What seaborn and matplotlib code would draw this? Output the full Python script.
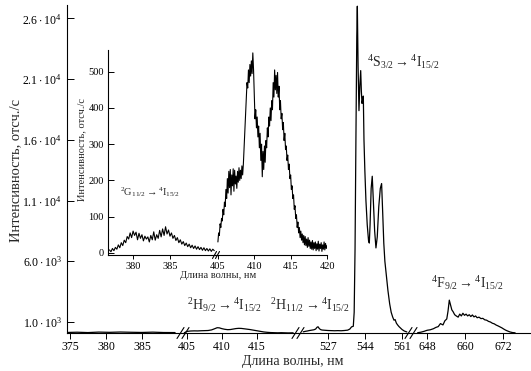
import numpy as np
import pandas as pd
import matplotlib
matplotlib.use("Agg")
import matplotlib.pyplot as plt
from matplotlib.lines import Line2D
import seaborn as sns

# main spectrum, four windows of the broken wavelength axis
main_wl_1 = [374.7, 376.0, 377.5, 379.0, 380.5, 382.0, 383.5, 385.0, 386.5, 388.0, 389.6]
main_int_1 = [140, 160, 130, 170, 150, 175, 155, 140, 165, 135, 130]

main_wl_2 = [404.6, 405.0, 405.5, 406.0, 406.5, 407.0, 407.5, 408.0, 408.5, 409.0,
             409.3, 409.6, 410.0, 410.4, 410.8, 411.2, 411.6, 412.0, 412.4, 412.8,
             413.2, 413.6, 414.0, 414.5, 415.0, 415.5, 416.0, 416.5, 417.0, 417.5,
             418.0, 418.5, 419.0, 419.5, 420.2]
main_int_2 = [120, 230, 260, 270, 265, 280, 290, 300, 350, 460,
              530, 520, 450, 400, 370, 380, 420, 460, 480, 470,
              440, 410, 380, 330, 280, 230, 180, 150, 130, 120,
              110, 120, 110, 100, 110]

main_wl_3 = [515.6, 516.5, 517.5, 518.5, 519.5, 520.5, 521.3, 521.9, 522.4, 522.9,
             523.5, 524.2, 525.5, 527.0, 528.5, 530.0, 531.5, 533.0, 534.5, 536.0,
             537.0, 537.8, 538.6, 539.0, 539.4, 539.8, 540.2, 540.45, 540.8, 541.2,
             541.6, 542.0, 542.3, 542.6, 542.9, 543.2, 543.5, 543.9, 544.4, 545.0,
             545.6, 545.95, 546.3, 546.8, 547.3, 547.8, 548.4, 549.0, 549.6, 550.3,
             551.0, 551.6, 552.1, 552.6, 553.1, 553.8, 554.5, 555.3, 556.0, 556.7,
             557.3, 557.8, 558.4, 559.0, 559.6, 560.3, 561.0, 562.0, 563.2]
main_int_3 = [190, 230, 260, 300, 330, 360, 420, 560, 610, 480,
              380, 340, 320, 300, 290, 280, 290, 280, 300, 330,
              420, 600, 650, 1800, 7000, 16000, 24500, 27000, 22000, 18400,
              20500, 21700, 20000, 19000, 19300, 19600, 16000, 13500, 11000, 9000,
              7700, 7500, 9000, 12000, 13000, 11000, 8500, 7100, 8000, 10500,
              12000, 12400, 10000, 7500, 6000, 4800, 3600, 2500, 1800, 1400,
              1150, 1200, 900, 750, 620, 500, 380, 260, 180]

main_wl_4 = [645.0, 646.0, 647.0, 648.0, 649.0, 650.0, 650.8, 651.5, 652.2, 653.0,
             653.6, 654.2, 654.6, 655.0, 655.4, 655.8, 656.2, 656.7, 657.2, 657.8,
             658.3, 658.8, 659.3, 659.8, 660.3, 660.8, 661.3, 661.8, 662.3, 662.8,
             663.3, 663.8, 664.4, 665.0, 665.6, 666.2, 666.8, 667.4, 668.0, 668.6,
             669.2, 669.8, 670.4, 671.0, 671.6, 672.2, 672.8, 673.5, 674.2, 675.0,
             675.8]
main_int_4 = [120, 160, 230, 320, 360, 450, 560, 620, 870, 760,
              1100, 1250, 1900, 2800, 2400, 2000, 1850, 1600, 1500, 1400,
              1650, 1500, 1720, 1550, 1650, 1500, 1600, 1450, 1580, 1420,
              1500, 1350, 1400, 1280, 1300, 1180, 1150, 1050, 1000, 900,
              850, 750, 680, 600, 520, 420, 330, 250, 180, 130,
              110]

main_xlims = [(374.6, 390.7), (404.4, 420.9), (513.2, 565.1), (642.9, 680.5)]
main_xticks = [[375, 380, 385], [405, 410, 415], [527, 544, 561], [648, 660, 672]]
main_yticks = [1000, 6000, 11000, 16000, 21000, 26000]
main_ylabels = [r'$1.0\cdot10^3$', r'$6.0\cdot10^3$', r'$1.1\cdot10^4$',
                r'$1.6\cdot10^4$', r'$2.1\cdot10^4$', r'$2.6\cdot10^4$']

# inset: 2G11/2 and 2H9/2 bands, step 0.2 nm and 0.1 nm
inset_int_1 = [8, 3, 12, 6, 15, 10, 22, 14, 28, 20,
               35, 28, 45, 38, 55, 42, 60, 48, 57, 36,
               54, 40, 50, 33, 46, 38, 44, 30, 48, 36,
               58, 35, 50, 40, 62, 44, 66, 48, 72, 52,
               63, 46, 55, 40, 48, 34, 42, 28, 36, 24,
               31, 20, 27, 17, 24, 14, 21, 12, 19, 10,
               17, 9, 15, 7, 14, 6, 12, 5, 11, 4,
               10, 6]
inset_wl_1 = np.round(np.linspace(376.8, 391.0, len(inset_int_1)), 2)

inset_int_2 = [30, 55, 48, 80, 70, 95, 88, 120, 105, 140,
               128, 175, 150, 205, 165, 225, 180, 230, 160, 215,
               185, 232, 170, 228, 190, 212, 178, 225, 195, 235,
               200, 228, 205, 240, 215, 245, 290, 330, 385, 420,
               470, 455, 505, 470, 520, 488, 530, 495, 552, 505,
               440, 370, 395, 345, 375, 320, 350, 290, 330, 255,
               300, 210, 280, 230, 295, 250, 310, 290, 345, 320,
               375, 350, 400, 365, 420, 395, 470, 430, 505, 450,
               490, 440, 498, 430, 460, 395, 420, 370, 385, 340,
               360, 310, 330, 285, 295, 255, 270, 230, 245, 205,
               215, 175, 185, 150, 160, 120, 130, 95, 105, 70,
               85, 55, 70, 42, 60, 35, 52, 28, 48, 22,
               45, 20, 38, 15, 42, 18, 35, 12, 30, 10,
               34, 8, 28, 12, 30, 6, 25, 10, 32, 5,
               24, 12, 28, 4, 22, 10, 30, 8, 26, 12,
               20]
inset_wl_2 = np.round(np.linspace(405.0, 420.0, len(inset_int_2)), 2)

inset_xlims = [(376.6, 391.1), (404.6, 420.0)]
inset_xticks = [[380, 385], [405, 410, 415, 420]]
inset_yticks = [0, 100, 200, 300, 400, 500]

sns.set_theme(style="ticks")
plt.rcParams['font.family'] = ['Liberation Serif', 'DejaVu Serif']
plt.rcParams['mathtext.fontset'] = 'custom'
plt.rcParams['mathtext.rm'] = 'Liberation Serif'
plt.rcParams['mathtext.it'] = 'Liberation Serif:italic'
plt.rcParams['mathtext.bf'] = 'Liberation Serif:bold'
plt.rcParams['axes.linewidth'] = 0.8
plt.rcParams['axes.edgecolor'] = 'black'

W, H = 531, 371
fig = plt.figure(figsize=(W / 100, H / 100), dpi=100)


def broken_row(box, widths, xlims, xticks, fs, tlen):
    x0, y0, x1, y1 = box
    axes = []
    left = x0
    for i, (w, lim, tk) in enumerate(zip(widths, xlims, xticks)):
        ax = fig.add_axes([left / W, 1 - y1 / H, w / W, (y1 - y0) / H])
        ax.set_facecolor('none')
        ax.set_xlim(*lim)
        ax.set_xticks(tk)
        ax.tick_params(axis='x', direction='out', length=tlen, width=0.7,
                       labelsize=fs, pad=2, colors='black')
        ax.tick_params(axis='y', direction='in', length=tlen + 1, width=0.7,
                       labelsize=fs, colors='black')
        for s in ['top', 'right']:
            ax.spines[s].set_visible(False)
        if i > 0:
            ax.spines['left'].set_visible(False)
            ax.tick_params(axis='y', left=False, labelleft=False)
        axes.append(ax)
        left += w
    return axes


def break_mark(xp, yp, w, h, gap):
    for dx in (-gap / 2, gap / 2):
        fig.add_artist(Line2D([(xp + dx - w / 2) / W, (xp + dx + w / 2) / W],
                              [1 - (yp + h / 2) / H, 1 - (yp - h / 2) / H],
                              color='black', lw=0.8))


# main plot
main_axes = broken_row((67, 5, 530, 333), [116, 115, 113, 119], main_xlims,
                       main_xticks, 8.5, 4)
main_data = [(main_wl_1, main_int_1), (main_wl_2, main_int_2),
             (main_wl_3, main_int_3), (main_wl_4, main_int_4)]
for ax, (wl, val) in zip(main_axes, main_data):
    sns.lineplot(x=wl, y=val, ax=ax, color='black', lw=0.9,
                 estimator=None, sort=False)
    ax.set_ylim(95, 27100)
    ax.set_xlabel('')
    ax.set_ylabel('')
main_axes[0].set_yticks(main_yticks)
main_axes[0].set_yticklabels(main_ylabels)
main_axes[0].tick_params(axis='y', pad=4, labelsize=8.5)
for xb in (183, 298, 411):
    break_mark(xb, 333, 7, 11, 5)

fig.text(293 / W, 1 - 362 / H, 'Длина волны, нм', fontsize=10,
         ha='center', va='center')
fig.text(16 / W, 1 - 170 / H, 'Интенсивность, отсч./с', fontsize=10.5,
         rotation=90, ha='center', va='center')

# inset
inset_axes = broken_row((108, 50, 327, 255), [107, 112], inset_xlims,
                        inset_xticks, 7.5, 3)
inset_data = [(inset_wl_1, inset_int_1), (inset_wl_2, inset_int_2)]
for ax, (wl, val) in zip(inset_axes, inset_data):
    sns.lineplot(x=wl, y=val, ax=ax, color='black', lw=0.8,
                 estimator=None, sort=False)
    ax.set_ylim(-6, 560)
    ax.set_xlabel('')
    ax.set_ylabel('')
inset_axes[0].set_yticks(inset_yticks)
inset_axes[0].tick_params(axis='y', pad=3)
break_mark(216, 255, 4, 7, 3)

fig.text(218 / W, 1 - 276 / H, 'Длина волны, нм', fontsize=7.5,
         ha='center', va='center')
fig.text(82 / W, 1 - 150 / H, 'Интенсивность, отсч./с', fontsize=7.5,
         rotation=90, ha='center', va='center')

# band assignments
labels = [
    (367, 62, r'$^{4}\mathrm{S}_{3/2}\rightarrow{}^{4}\mathrm{I}_{15/2}$', 10),
    (431, 283, r'$^{4}\mathrm{F}_{9/2}\rightarrow{}^{4}\mathrm{I}_{15/2}$', 10),
    (187, 305, r'$^{2}\mathrm{H}_{9/2}\rightarrow{}^{4}\mathrm{I}_{15/2}$', 10),
    (270, 305, r'$^{2}\mathrm{H}_{11/2}\rightarrow{}^{4}\mathrm{I}_{15/2}$', 10),
    (120, 192, r'$^{2}\mathrm{G}_{11/2}\rightarrow{}^{4}\mathrm{I}_{15/2}$', 7.5),
]
for xp, yp, txt, fs in labels:
    fig.text(xp / W, 1 - yp / H, txt, fontsize=fs, ha='left', va='center')

fig.savefig('out.png', dpi=100)
